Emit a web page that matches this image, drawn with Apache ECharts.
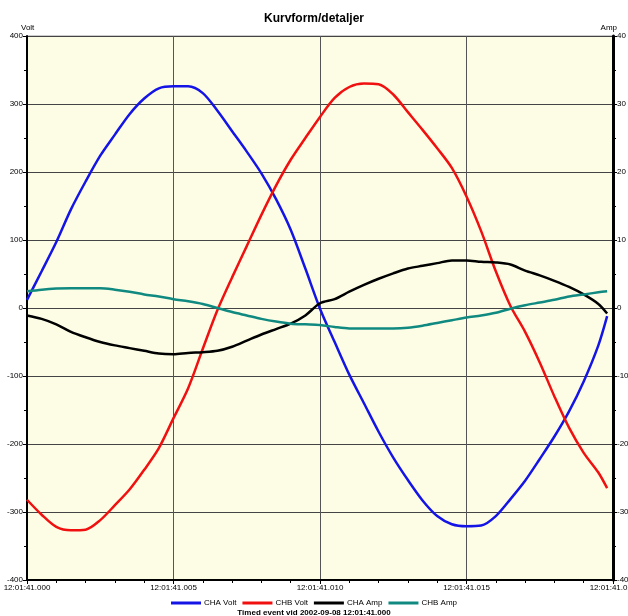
<!DOCTYPE html>
<html>
<head>
<meta charset="utf-8">
<script src="https://cdn.jsdelivr.net/npm/echarts@6/dist/echarts.min.js"></script>
<style>
  html, body { margin: 0; padding: 0; background: #fff; }
  #chart { width: 628px; height: 616px; }
</style>
</head>
<body>
<div id="chart"></div>
<script>
// time in ms after 12:01:41.000
const timeMs = [0, 0.5, 1, 1.5, 2, 2.5, 3, 3.5, 4, 4.5, 5, 5.5, 6, 6.5, 7, 7.5, 8, 8.5, 9, 9.5,
  10, 10.5, 11, 11.5, 12, 12.5, 13, 13.5, 14, 14.5, 15, 15.5, 16, 16.5, 17, 17.5, 18, 18.5, 19, 19.5, 19.8]

const chaVolt = [12, 54, 97, 145, 186, 224, 255, 285, 308, 323, 326, 326, 316, 290, 260, 230, 198, 160, 115, 58,
  -1, -50, -98, -140, -182, -220, -253, -283, -306, -318, -321, -320, -306, -281, -254, -222, -189, -152, -108, -55, -12]

const chbVolt = [-282, -304, -322, -327, -326, -312, -290, -267, -238, -206, -162, -118, -60, -3, 45, 91, 137, 180, 218, 250,
  281, 309, 325, 330, 329, 314, 288, 262, 235, 206, 164, 113, 54, 3, -35, -80, -130, -176, -213, -242, -265]

const chaAmp = [-1.1, -1.6, -2.4, -3.5, -4.3, -5.0, -5.5, -5.9, -6.3, -6.7, -6.8, -6.6, -6.5, -6.3, -5.7, -4.8, -3.9, -3.1, -2.3, -1.1,
  0.7, 1.3, 2.4, 3.4, 4.3, 5.1, 5.8, 6.2, 6.6, 7.0, 7.0, 6.8, 6.7, 6.4, 5.5, 4.8, 4.0, 3.1, 2.0, 0.6, -0.8]

const chbAmp = [2.45, 2.7, 2.85, 2.9, 2.9, 2.9, 2.7, 2.4, 2.0, 1.7, 1.3, 1.0, 0.6, 0, -0.6, -1.1, -1.6, -2.0, -2.3, -2.4,
  -2.5, -2.8, -3.0, -3.0, -3.0, -3.0, -2.9, -2.6, -2.2, -1.8, -1.4, -1.1, -0.7, -0.1, 0.4, 0.8, 1.2, 1.7, 2.0, 2.3, 2.45]

const seriesNames = ['CHA Volt', 'CHB Volt', 'CHA Amp', 'CHB Amp']
const seriesColors = ['#1414e6', '#f01010', '#000000', '#108a80']

const pairs = (vals) => timeMs.map((t, i) => [t, vals[i]])
const font = 'Arial, "Liberation Sans", sans-serif'

const chart = echarts.init(document.getElementById('chart'))

const lineSeries = (name, vals, axisIdx, idx) => ({
  name,
  type: 'line',
  yAxisIndex: axisIdx,
  data: pairs(vals),
  showSymbol: false,
  smooth: 0.3,
  lineStyle: { width: 2.5, color: seriesColors[idx] },
  itemStyle: { color: seriesColors[idx] },
  animation: false,
})

chart.setOption({
  animation: false,
  title: [
    {
      text: 'Kurvform/detaljer',
      left: 'center',
      top: 8,
      textStyle: { fontSize: 12, fontWeight: 'bold', color: '#000', fontFamily: font },
    },
    {
      text: 'Timed event vid 2002-09-08 12:01:41.000',
      left: 'center',
      top: 604,
      textStyle: { fontSize: 8, fontWeight: 'bold', color: '#000', fontFamily: font },
    },
  ],
  legend: {
    data: seriesNames,
    top: 594,
    left: 'center',
    icon: 'rect',
    itemWidth: 30,
    itemHeight: 3,
    itemGap: 6,
    textStyle: { fontSize: 8, color: '#000', fontFamily: font, padding: [0, 0, 0, -2] },
  },
  grid: {
    left: 27,
    right: 15,
    top: 36,
    bottom: 36,
    outerBoundsMode: 'none',
    containLabel: false,
    show: true,
    backgroundColor: '#fdfde6',
    borderColor: '#999',
    borderWidth: 1,
  },
  xAxis: {
    type: 'value',
    min: 0,
    max: 20,
    interval: 5,
    axisLine: { onZero: false, lineStyle: { color: '#000', width: 2 } },
    axisTick: { show: true, length: 4, lineStyle: { color: '#000' } },
    minorTick: { show: true, splitNumber: 5, length: 3, lineStyle: { color: '#000' } },
    splitLine: { show: true, lineStyle: { color: '#555', width: 1 } },
    axisLabel: {
      fontSize: 8,
      color: '#000',
      fontFamily: font,
      margin: 4,
      formatter: (v) => '12:01:41.' + String(v).padStart(3, '0'),
    },
  },
  yAxis: [
    {
      type: 'value',
      min: -400,
      max: 400,
      interval: 100,
      position: 'left',
      name: 'Volt',
      nameGap: 2,
      nameTextStyle: { fontSize: 8, color: '#000', fontFamily: font, align: 'left', padding: [0, 0, 0, -6] },
      axisLine: { show: true, onZero: false, lineStyle: { color: '#000', width: 2 } },
      axisTick: { show: true, length: 4, lineStyle: { color: '#000' } },
      minorTick: { show: true, splitNumber: 2, length: 3, lineStyle: { color: '#000' } },
      splitLine: { show: true, lineStyle: { color: '#444', width: 1 } },
      axisLabel: { fontSize: 8, color: '#000', fontFamily: font, margin: 4 },
    },
    {
      type: 'value',
      min: -40,
      max: 40,
      interval: 10,
      position: 'right',
      name: 'Amp',
      nameGap: 2,
      nameTextStyle: { fontSize: 8, color: '#000', fontFamily: font, align: 'right', padding: [0, -4, 0, 0] },
      axisLine: { show: true, onZero: false, lineStyle: { color: '#000', width: 3 } },
      axisTick: { show: true, length: 4, lineStyle: { color: '#000' } },
      minorTick: { show: true, splitNumber: 2, length: 3, lineStyle: { color: '#000' } },
      splitLine: { show: false },
      axisLabel: { fontSize: 8, color: '#000', fontFamily: font, margin: 4 },
    },
  ],
  series: [
    lineSeries(seriesNames[0], chaVolt, 0, 0),
    lineSeries(seriesNames[1], chbVolt, 0, 1),
    lineSeries(seriesNames[2], chaAmp, 1, 2),
    lineSeries(seriesNames[3], chbAmp, 1, 3),
  ],
})

window.addEventListener('resize', () => chart.resize())
</script>
</body>
</html>
